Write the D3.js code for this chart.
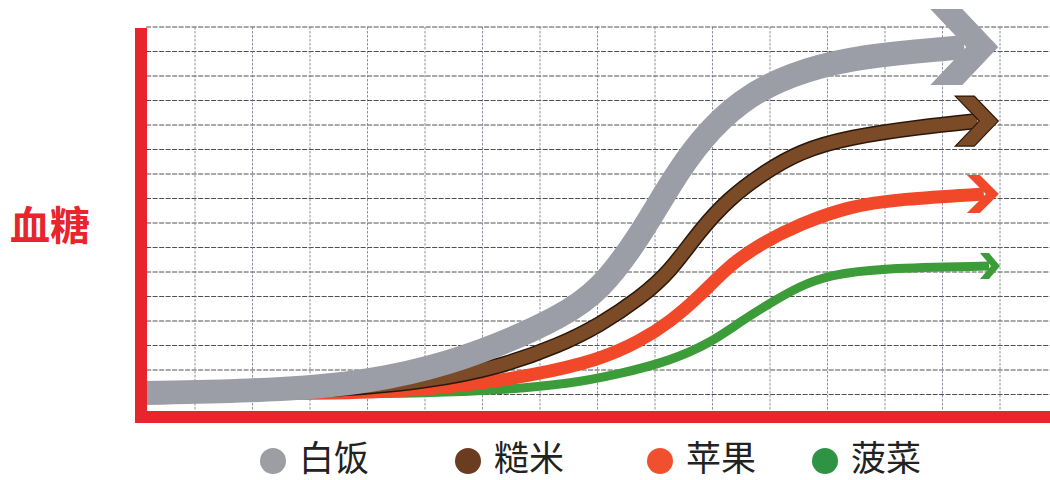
<!DOCTYPE html>
<html>
<head>
<meta charset="utf-8">
<script src="https://cdn.jsdelivr.net/npm/d3@7"></script>
<style>
  html, body { margin: 0; padding: 0; background: #fff; }
  svg { display: block; }
</style>
</head>
<body>
<svg id="chart" width="1050" height="480"></svg>
<script>
// ---- data (x: time in grid units, y: blood sugar in grid units) ----
const seriesNames = ["白饭", "糙米", "苹果", "菠菜"];
const yAxisLabel = "血糖";
const xGridTicks = d3.range(1, 17);
const yGridTicks = d3.range(0, 16);

const whiteRice = [[0.1,0.06],[1.96,0.14],[3.7,0.39],[5.09,1.04],[6.3,2.02],[7.35,3.16],[8.04,4.22],[8.74,6.47],[9.26,8.59],[9.78,10.39],[10.48,12.02],[11.35,13.08],[12.39,13.73],[13.61,14.02],[14.97,14.18]];
const brownRice = [[0.1,0.06],[3.35,0.14],[5.09,0.55],[6.3,1.12],[7.35,2.02],[8.04,2.84],[8.74,3.94],[9.26,5.0],[9.78,6.71],[10.3,8.02],[10.83,8.96],[11.52,9.94],[12.39,10.51],[13.61,10.92],[14.97,11.16]];
const apple = [[0.1,0.06],[3.35,0.03],[4.57,0.14],[5.78,0.39],[6.83,0.76],[8.04,1.41],[8.74,2.18],[9.26,2.96],[9.78,4.02],[10.3,5.29],[10.83,6.14],[11.52,6.96],[12.39,7.69],[13.26,7.98],[14.98,8.18]];
const spinach = [[0.1,0.06],[3.35,0.03],[5.09,0.06],[6.3,0.18],[7.52,0.43],[8.39,0.84],[9.26,1.37],[9.96,2.1],[10.48,2.96],[11.0,3.73],[11.52,4.43],[12.04,4.88],[12.91,5.16],[15.0,5.24]];

// ---- styles ----
const styles = [
  { data: whiteRice, color: "#9b9ea6", width: 24, outline: null, head: { d: 68, t: 32, h: 38 }, legendColor: "#9c9ea4" },
  { data: brownRice, color: "#7b4a26", width: 13, outline: "#2a180b", head: { d: 43, t: 19, h: 25 }, legendColor: "#6a3d20" },
  { data: apple,     color: "#f2482a", width: 13, outline: null, head: { d: 32, t: 13, h: 19 }, legendColor: "#f0502e" },
  { data: spinach,   color: "#3d9c3a", width: 9,  outline: null, head: { d: 20, t: 9,  h: 13 }, legendColor: "#2e9343" }
];
const axisRed = "#e8242c";

const svg = d3.select("#chart");
const x = d3.scaleLinear().domain([0, 16]).range([137.5, 1057.5]);
const y = d3.scaleLinear().domain([0, 15]).range([394.5, 27]);

// ---- grid ----
const grid = svg.append("g");
grid.selectAll("line.h").data(yGridTicks).join("line")
  .attr("x1", x(0.15)).attr("x2", 1050)
  .attr("y1", d => y(d)).attr("y2", d => y(d))
  .attr("stroke", "#333").attr("stroke-width", 1)
  .attr("stroke-dasharray", "5,1.5").attr("opacity", 0.85);
grid.selectAll("line.v").data(xGridTicks).join("line")
  .attr("x1", d => x(d)).attr("x2", d => x(d))
  .attr("y1", y(15)).attr("y2", y(0) + 16)
  .attr("stroke", "#6f7688").attr("stroke-width", 1)
  .attr("stroke-dasharray", "2.5,1.5").attr("opacity", 0.8);

// ---- curves (drawn back to front) ----
const line = d3.line().x(d => x(d[0])).y(d => y(d[1])).curve(d3.curveBasis);

function drawSeries(s) {
  const g = svg.append("g");
  const pts = s.data;
  const tip = pts[pts.length - 1];
  const TX = x(tip[0]), TY = y(tip[1]);
  const shaftEnd = [x.invert(TX - s.head.t - 2), tip[1]];
  const shaft = pts.slice(0, -1).concat([shaftEnd]);
  if (s.outline) {
    g.append("path").attr("d", line(shaft)).attr("fill", "none")
      .attr("stroke", s.outline).attr("stroke-width", s.width + 3);
  }
  g.append("path").attr("d", line(shaft)).attr("fill", "none")
    .attr("stroke", s.color).attr("stroke-width", s.width);
  const { d, t, h } = s.head;
  const poly = [[TX - d, TY - h], [TX - d + t, TY - h], [TX, TY], [TX - d + t, TY + h], [TX - d, TY + h], [TX - t, TY]];
  g.append("polygon").attr("points", poly.map(p => p.join(",")).join(" "))
    .attr("fill", s.color)
    .attr("stroke", s.outline || "none").attr("stroke-width", s.outline ? 1.2 : 0)
    .attr("stroke-linejoin", "miter");
}
[styles[3], styles[2], styles[1], styles[0]].forEach(drawSeries);

// ---- axes (thick red bars) ----
svg.append("line").attr("x1", 141).attr("x2", 141).attr("y1", y(15) + 1).attr("y2", 423)
  .attr("stroke", axisRed).attr("stroke-width", 12);
svg.append("line").attr("x1", 135).attr("x2", 1050).attr("y1", 417).attr("y2", 417)
  .attr("stroke", axisRed).attr("stroke-width", 12);

// ---- y axis label ----
svg.append("text").attr("x", 10).attr("y", 240)
  .attr("font-family", "'Noto Sans CJK SC', sans-serif")
  .attr("font-size", 40).attr("font-weight", "bold")
  .attr("fill", axisRed).text(yAxisLabel);

// ---- legend ----
const legendX = [273, 468, 660, 825];
const legend = svg.append("g");
seriesNames.forEach((name, i) => {
  legend.append("circle").attr("cx", legendX[i]).attr("cy", 461).attr("r", 13)
    .attr("fill", styles[i].legendColor);
  legend.append("text").attr("x", legendX[i] + 26).attr("y", 471)
    .attr("font-family", "'Noto Sans CJK SC', sans-serif")
    .attr("font-size", 35).attr("fill", "#222").text(name);
});
</script>
</body>
</html>
